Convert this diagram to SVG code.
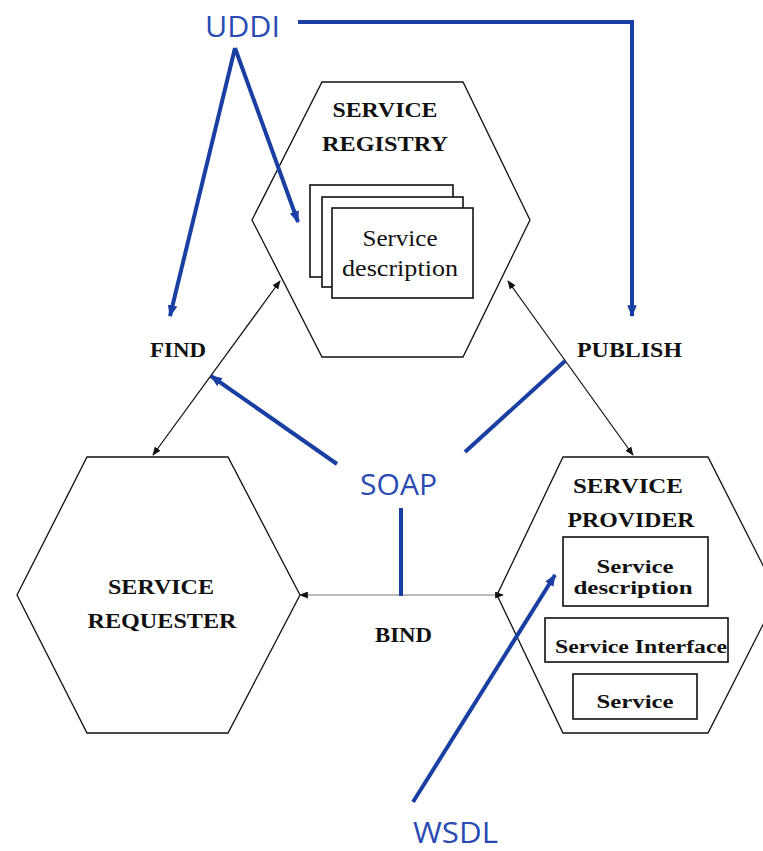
<svg xmlns="http://www.w3.org/2000/svg" width="763" height="851" viewBox="0 0 763 851">
  <style>
    .hex { fill: #ffffff; stroke: #111; stroke-width: 1.3; }
    .box { fill: #ffffff; stroke: #111; stroke-width: 1.6; }
    .title { font-family: "Liberation Serif", serif; font-weight: bold; font-size: 21px; fill: #111; text-anchor: middle; }
    .inner { font-family: "Liberation Serif", serif; font-size: 23px; fill: #111; text-anchor: middle; }
    .innerb { font-family: "Liberation Serif", serif; font-weight: bold; font-size: 18px; fill: #111; text-anchor: middle; }
    .lbl { font-family: "Liberation Serif", serif; font-weight: bold; font-size: 20px; fill: #111; }
    .std { font-family: "Open Sans", "Liberation Sans", sans-serif; font-size: 30px; fill: #2a4bb3; }
    .rel { fill: none; stroke: #111; stroke-width: 1.2; }
    .tech { fill: none; stroke: #1a3fa3; stroke-width: 4; }
  </style>
  <defs>
    <marker id="blk" viewBox="0 0 10 8" refX="9" refY="4" markerWidth="9" markerHeight="7" markerUnits="userSpaceOnUse" orient="auto-start-reverse">
      <path d="M0,0 L10,4 L0,8 z" fill="#111"/>
    </marker>
    <marker id="blu" viewBox="0 0 10 8" refX="9" refY="4" markerWidth="12" markerHeight="10" markerUnits="userSpaceOnUse" orient="auto">
      <path d="M0,0 L10,4 L0,8 z" fill="#1a3fa3"/>
    </marker>
  </defs>

  <g id="registry">
    <polygon class="hex" points="322,82 463,82 530,220 463,357 322,357 252,220"/>
    <text class="title" x="385" y="117" textLength="105" lengthAdjust="spacingAndGlyphs">SERVICE</text>
    <text class="title" x="385" y="151" textLength="126" lengthAdjust="spacingAndGlyphs">REGISTRY</text>
    <rect class="box" x="310" y="185" width="143" height="92"/>
    <rect class="box" x="322" y="197" width="141" height="90"/>
    <rect class="box" x="332" y="208" width="141" height="90"/>
    <text class="inner" x="400" y="246" textLength="75" lengthAdjust="spacingAndGlyphs">Service</text>
    <text class="inner" x="400" y="276" textLength="116" lengthAdjust="spacingAndGlyphs">description</text>
  </g>

  <g id="requester">
    <polygon class="hex" points="87,457 228,457 300,595 228,733 87,733 17,595"/>
    <text class="title" x="161" y="594" textLength="106" lengthAdjust="spacingAndGlyphs">SERVICE</text>
    <text class="title" x="162" y="628" textLength="149" lengthAdjust="spacingAndGlyphs">REQUESTER</text>
  </g>

  <g id="provider">
    <polygon class="hex" points="563,457 708,457 778,595 708,733 563,733 497,595"/>
    <text class="title" x="628" y="493" textLength="110" lengthAdjust="spacingAndGlyphs">SERVICE</text>
    <text class="title" x="631" y="527" textLength="127" lengthAdjust="spacingAndGlyphs">PROVIDER</text>
    <rect class="box" x="563" y="537" width="145" height="69"/>
    <text class="innerb" x="635" y="573" textLength="77" lengthAdjust="spacingAndGlyphs">Service</text>
    <text class="innerb" x="633" y="594" textLength="119" lengthAdjust="spacingAndGlyphs">description</text>
    <rect class="box" x="545" y="618" width="183" height="44"/>
    <text class="innerb" x="641" y="653" textLength="172" lengthAdjust="spacingAndGlyphs">Service Interface</text>
    <rect class="box" x="573" y="674" width="124" height="45"/>
    <text class="innerb" x="635" y="708" textLength="77" lengthAdjust="spacingAndGlyphs">Service</text>
  </g>

  <g id="labels">
    <text class="lbl" x="150" y="357" textLength="56" lengthAdjust="spacingAndGlyphs">FIND</text>
    <text class="lbl" x="577" y="357" textLength="105" lengthAdjust="spacingAndGlyphs">PUBLISH</text>
    <text class="lbl" x="375" y="642" textLength="57" lengthAdjust="spacingAndGlyphs">BIND</text>
  </g>

  <g id="standards">
    <text class="std" x="205" y="37" textLength="75" lengthAdjust="spacingAndGlyphs">UDDI</text>
    <text class="std" x="360" y="495" textLength="77" lengthAdjust="spacingAndGlyphs">SOAP</text>
    <text class="std" x="413" y="843" textLength="85" lengthAdjust="spacingAndGlyphs">WSDL</text>
  </g>

  <g id="connectors">
    <!-- operations between roles -->
    <line class="rel" x1="153" y1="455" x2="280" y2="281" marker-start="url(#blk)" marker-end="url(#blk)"/>
    <line class="rel" x1="508" y1="281" x2="633" y2="455" marker-start="url(#blk)" marker-end="url(#blk)"/>
    <line class="rel" x1="300" y1="595" x2="503" y2="595" marker-start="url(#blk)" marker-end="url(#blk)" style="stroke:#777"/>
    <!-- technology pointers -->
    <polyline class="tech" points="298,22 632,22 632,316" marker-end="url(#blu)"/>
    <line class="tech" x1="235" y1="48" x2="170" y2="316" marker-end="url(#blu)"/>
    <line class="tech" x1="235" y1="48" x2="298" y2="222" marker-end="url(#blu)"/>
    <line class="tech" x1="337" y1="464" x2="211" y2="376" marker-end="url(#blu)"/>
    <line class="tech" x1="465" y1="452" x2="565" y2="361"/>
    <line class="tech" x1="401" y1="508" x2="401" y2="596"/>
    <line class="tech" x1="413" y1="802" x2="555" y2="575" marker-end="url(#blu)"/>
  </g>
</svg>
